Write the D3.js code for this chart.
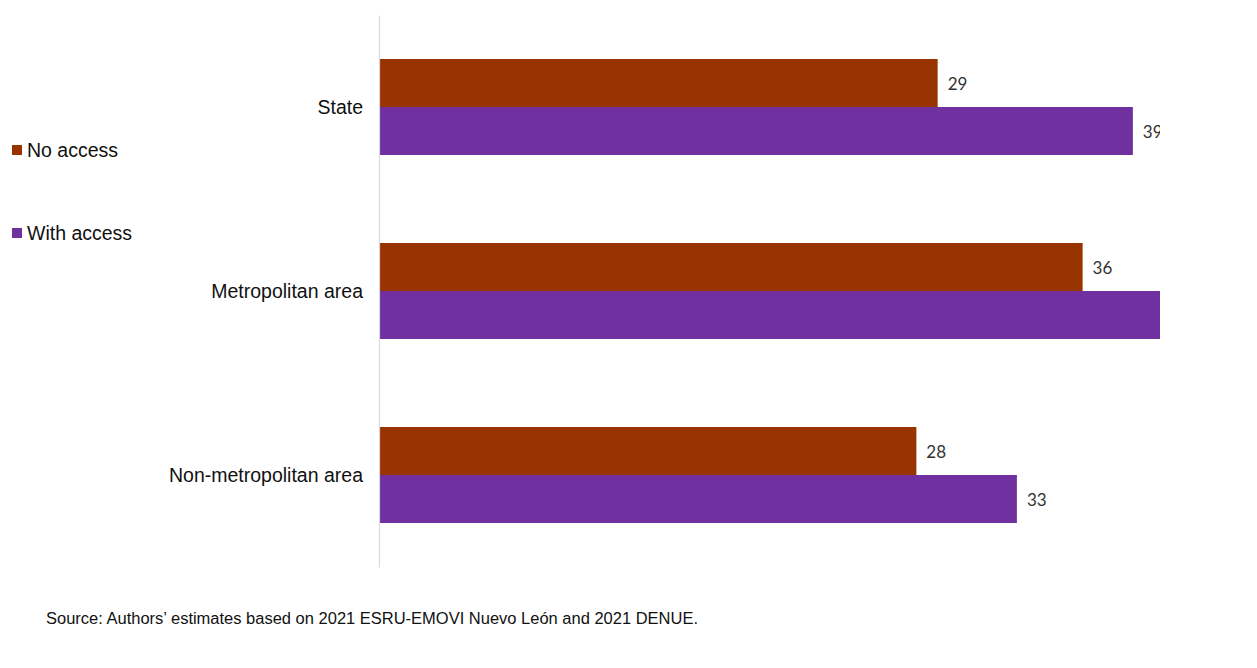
<!DOCTYPE html>
<html><head><meta charset="utf-8">
<script src="https://cdn.jsdelivr.net/npm/d3@7"></script>
<style>html,body{margin:0;padding:0;background:#fff;}svg{display:block;}</style>
</head><body>
<script>
const categories = ["State", "Metropolitan area", "Non-metropolitan area"];
const seriesNames = ["No access", "With access"];
const noAccess = [28.9, 36.4, 27.8];
const withAccess = [39.0, 42.0, 33.0];
const sourceText = "Source: Authors\u2019 estimates based on 2021 ESRU-EMOVI Nuevo León and 2021 DENUE.";

const W = 1257, H = 668;
const colors = ["#993300", "#7030a0"];
const svg = d3.select("body").append("svg").attr("width", W).attr("height", H);

const x = d3.scaleLinear().domain([0, 10]).range([379, 379 + 193.3]);
const y = d3.scaleBand().domain(categories).range([15, 567]);
const inner = d3.scaleBand().domain(seriesNames).range([0, 96]);
const fmt = d3.format(".0f");

svg.append("defs").append("clipPath").attr("id", "c")
  .append("rect").attr("x", 0).attr("y", 0).attr("width", 1160).attr("height", H);

const g = svg.append("g").attr("clip-path", "url(#c)");

// axis
const axis = d3.axisLeft(y).tickSize(0).tickFormat("");
const ax = svg.append("g").attr("transform", `translate(${x(0)},0)`).call(axis);
ax.select(".domain").attr("stroke", "#d9d9d9").attr("stroke-width", 1.2);

const rows = categories.map((c, i) => ({cat: c, vals: [noAccess[i], withAccess[i]]}));
const grp = g.selectAll("g.cat").data(rows).join("g")
  .attr("transform", d => `translate(0,${y(d.cat) + y.bandwidth()/2 - 48})`);
grp.selectAll("rect").data(d => d.vals.map((v, j) => ({v, s: seriesNames[j], j})))
  .join("rect")
  .attr("x", x(0)).attr("y", d => inner(d.s))
  .attr("width", d => x(d.v) - x(0)).attr("height", inner.bandwidth())
  .attr("fill", d => colors[d.j]);
grp.selectAll("text").data(d => d.vals.map((v, j) => ({v, s: seriesNames[j], j})))
  .join("text")
  .attr("x", d => x(d.v) + 10).attr("y", d => inner(d.s) + inner.bandwidth()/2 + 1)
  .attr("dy", "0.35em")
  .attr("font-family", "Lato, 'Open Sans', sans-serif").attr("font-size", 17)
  .attr("fill", "#333").text(d => fmt(d.v));

// category labels
svg.selectAll("text.cat").data(categories).join("text").attr("class", "cat")
  .attr("x", 363).attr("y", d => y(d) + y.bandwidth()/2)
  .attr("dy", "0.35em").attr("text-anchor", "end")
  .attr("font-family", "'Liberation Sans', Arial, sans-serif").attr("font-size", 19.5)
  .attr("fill", "#111").text(d => d);

// legend
const leg = svg.selectAll("g.leg").data(seriesNames).join("g").attr("class", "leg")
  .attr("transform", (d, i) => `translate(12,${150 + i * 83})`);
leg.append("rect").attr("x", 0).attr("y", -5).attr("width", 10).attr("height", 10)
  .attr("fill", (d, i) => colors[i]);
leg.append("text").attr("x", 15).attr("y", 0).attr("dy", "0.35em")
  .attr("font-family", "'Liberation Sans', Arial, sans-serif").attr("font-size", 19.5)
  .attr("fill", "#111").text(d => d);

// source
svg.append("text").attr("x", 46).attr("y", 624)
  .attr("font-family", "'Liberation Sans Narrow', 'Arial Narrow', 'Liberation Sans', sans-serif")
  .attr("font-size", 16).attr("fill", "#111")
  .attr("textLength", 652).attr("lengthAdjust", "spacingAndGlyphs")
  .text(sourceText);
</script>
</body></html>
